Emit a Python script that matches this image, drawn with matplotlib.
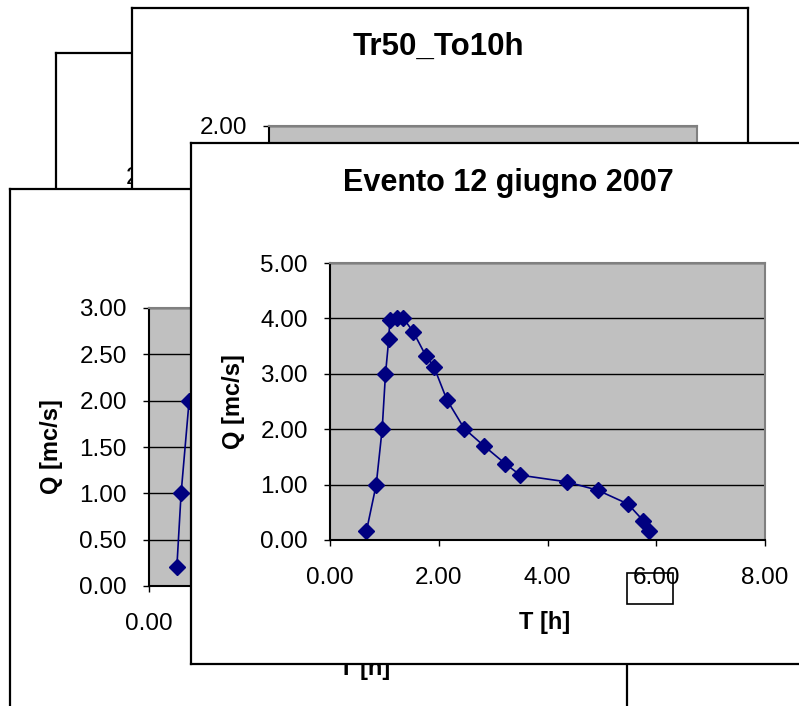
import matplotlib.pyplot as plt
from matplotlib.patches import Rectangle
from matplotlib.ticker import FormatStrFormatter

plt.rcParams['font.family'] = ['Liberation Sans', 'DejaVu Sans']

# Evento 12 giugno 2007: T [h] vs Q [mc/s]
ev_t = [0.67, 0.85, 0.96, 1.02, 1.08, 1.10, 1.23, 1.35, 1.53, 1.76, 1.91,
        2.15, 2.47, 2.83, 3.22, 3.50, 4.35, 4.92, 5.48, 5.76, 5.87]
ev_q = [0.16, 1.00, 2.01, 2.99, 3.62, 3.97, 4.00, 4.00, 3.76, 3.33, 3.13,
        2.53, 2.01, 1.70, 1.38, 1.17, 1.05, 0.90, 0.65, 0.35, 0.17]

# hydrograph of the sheet underneath (only its rising limb shows)
back_t = [0.52, 0.60, 0.75]
back_q = [0.20, 1.00, 2.00]

ev_xticks = [0, 2, 4, 6, 8]
ev_yticks = [0, 1, 2, 3, 4, 5]
back_yticks = [0, 0.5, 1.0, 1.5, 2.0, 2.5, 3.0]
tr50_yticks = [0, 0.5, 1.0, 1.5, 2.0]

W, H = 799, 706
fig = plt.figure(figsize=(W / 100, H / 100), dpi=100)
fig.patch.set_facecolor('white')


def px_box(x0, y0, x1, y1):
    return [x0 / W, 1 - y1 / H, (x1 - x0) / W, (y1 - y0) / H]


def chart_window(frame, plot, z):
    win = fig.add_axes(px_box(*frame), zorder=z)
    win.set_facecolor('white')
    win.set_xticks([])
    win.set_yticks([])
    for s in win.spines.values():
        s.set_color('black')
        s.set_linewidth(1.6)
    ax = fig.add_axes(px_box(*plot), zorder=z + 0.5)
    ax.set_facecolor('#c0c0c0')
    ax.spines['left'].set_color('black')
    ax.spines['bottom'].set_color('black')
    ax.spines['top'].set_color('#808080')
    ax.spines['right'].set_color('#808080')
    for s in ax.spines.values():
        s.set_linewidth(1.5)
    ax.tick_params(direction='out', length=4.5, width=1, labelsize=17.5,
                   colors='black')
    ax.tick_params(axis='y', pad=11.5)
    ax.tick_params(axis='x', pad=15)
    ax.xaxis.set_major_formatter(FormatStrFormatter('%.2f'))
    ax.yaxis.set_major_formatter(FormatStrFormatter('%.2f'))
    ax.grid(axis='y', color='black', linewidth=1.0)
    ax.set_axisbelow(True)
    return win, ax


# sheet 1 (furthest back)
w1, a1 = chart_window((56, 53, 672, 574), (195, 176, 623, 454), 1)
a1.set_xlim(0, 8)
a1.set_ylim(0, 2.0)
a1.set_xticks(ev_xticks)
a1.set_yticks(tr50_yticks)

# sheet 2: Tr50_To10h
w2, a2 = chart_window((132, 8, 748, 529), (269, 126, 697, 405), 2)
a2.set_xlim(0, 8)
a2.set_ylim(0, 2.0)
a2.set_xticks(ev_xticks)
a2.set_yticks(tr50_yticks)
w2.text(0.498, 0.910, 'Tr50_To10h', transform=w2.transAxes, ha='center',
        va='baseline', fontsize=22.5, fontweight='bold')

# sheet 3
w3, a3 = chart_window((10, 189, 627, 710), (149, 308, 577, 586), 3)
a3.plot(back_t, back_q, color='#000080', linewidth=1.2, marker='D',
        markersize=8)
a3.set_xlim(0, 8)
a3.set_ylim(0, 3.0)
a3.set_xticks(ev_xticks)
a3.set_yticks(back_yticks)
a3.set_xlabel('T [h]', fontsize=17, fontweight='bold')
a3.xaxis.set_label_coords(0.503, -0.255)
a3.set_ylabel('Q [mc/s]', fontsize=17, fontweight='bold')
a3.yaxis.set_label_coords(-0.20, 0.5)

# sheet 4 (front): Evento 12 giugno 2007
w4, a4 = chart_window((191, 143, 808, 664), (330, 263, 765, 540), 4)
a4.plot(ev_t, ev_q, color='#000080', linewidth=1.2, marker='D',
        markersize=8)
a4.set_xlim(0, 8)
a4.set_ylim(0, 5)
a4.set_xticks(ev_xticks)
a4.set_yticks(ev_yticks)
a4.set_xlabel('T [h]', fontsize=17, fontweight='bold')
a4.xaxis.set_label_coords(0.494, -0.255)
a4.set_ylabel('Q [mc/s]', fontsize=17, fontweight='bold')
a4.yaxis.set_label_coords(-0.195, 0.5)
w4.text(0.515, 0.908, 'Evento 12 giugno 2007', transform=w4.transAxes,
        ha='center', va='baseline', fontsize=22, fontweight='bold')

# empty text box left over near the 6.00 label
w4.add_patch(Rectangle(((627 - 191) / 617, 1 - (604 - 143) / 521),
                       46 / 617, 31 / 521, transform=w4.transAxes,
                       fill=False, edgecolor='black', linewidth=1.2,
                       zorder=5))

fig.savefig('out.png', dpi=100)
